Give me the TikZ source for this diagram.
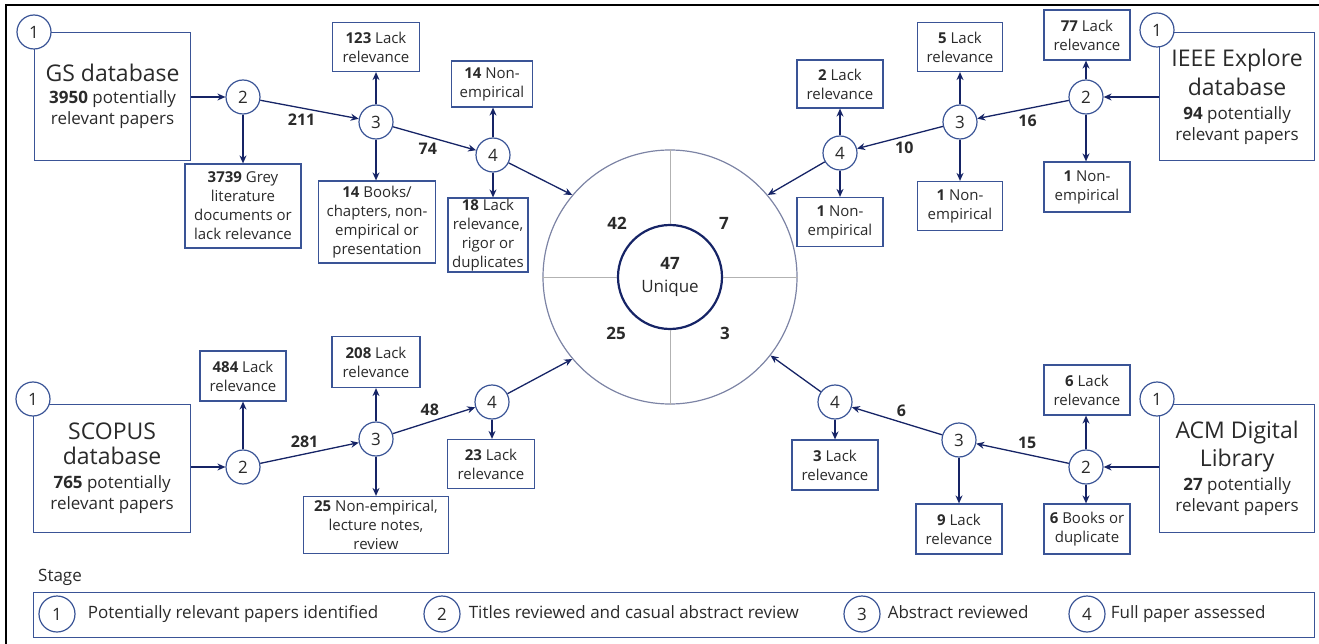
\documentclass[tikz,border=0pt]{standalone}
\usepackage{fontspec}
\setmainfont{Open Sans}
\usepackage{tikz}
\usetikzlibrary{positioning, arrows.meta}

\definecolor{boxblue}{RGB}{58,84,150}
\definecolor{navy}{RGB}{22,36,102}
\definecolor{txtgray}{RGB}{42,42,42}
\definecolor{ringgray}{RGB}{125,132,165}
\definecolor{divgray}{RGB}{178,178,178}

\newcommand{\bigline}{\fontsize{23}{27}\selectfont}

\begin{document}
\begin{tikzpicture}[x=1pt, y=-1pt,
    stage/.style={circle, draw=boxblue, fill=white, line width=1.2pt, minimum size=34pt, inner sep=0pt, text=txtgray, font=\fontsize{17}{20}\selectfont},
    dbbox/.style={rectangle, draw=boxblue, line width=1.2pt, minimum width=156pt, minimum height=128pt, anchor=north west, align=center, text=txtgray, font=\fontsize{17}{21}\selectfont},
    outbox/.style={rectangle, draw=boxblue, line width=1.2pt, minimum width=86pt, minimum height=50pt, inner sep=1pt, align=center, text=txtgray, font=\fontsize{15}{19}\selectfont},
    flow/.style={-{Stealth[length=8pt, width=7pt]}, draw=navy, line width=1.3pt},
    count/.style={font=\bfseries\fontsize{16}{19}\selectfont, text=txtgray},
    keytext/.style={inner sep=0pt, anchor=west, text height=12pt, text depth=4pt, text=txtgray, font=\fontsize{17}{20}\selectfont}]

\useasboundingbox (0,0) rectangle (1319,644);
\draw[line width=2pt] (6,644) -- (6,5) -- (1319,5);

% GS database
\node[dbbox] (gsbox) at (34,32) {{\bigline GS database}\\[1pt] \textbf{3950} potentially\\ relevant papers};
\node[stage] (gs1) at (34,32) {1};
\node[stage] (gs2) at (243,97) {2};
\node[stage] (gs3) at (376,122) {3};
\node[stage] (gs4) at (493,155) {4};
\node[outbox, minimum width=116pt, minimum height=84pt] (gsA) at (243,206) {\textbf{3739} Grey\\ literature\\ documents or\\ lack relevance};
\node[outbox, minimum width=87pt, minimum height=49pt] (gsB) at (376,47) {\textbf{123} Lack\\ relevance};
\node[outbox, minimum width=117pt, minimum height=82pt] (gsC) at (377,222) {\textbf{14} Books/\\ chapters, non-\\ empirical or\\ presentation};
\node[outbox, minimum width=81pt, minimum height=46pt] (gsD) at (492,84) {\textbf{14} Non-\\ empirical};
\node[outbox, minimum width=80pt, minimum height=74pt, inner sep=0pt] (gsE) at (488,235) {\textbf{18} Lack\\ relevance,\\ rigor or\\ duplicates};

\draw[flow] (gsbox.east |- gs2) -- (gs2);
\draw[flow] (gs2) -- (gs2 |- gsA.north);
\draw[flow] (gs2) -- node[count, below, pos=0.42, yshift=-2pt] {211} (gs3);
\draw[flow] (gs3) -- (gs3 |- gsB.south);
\draw[flow] (gs3) -- (gs3 |- gsC.north);
\draw[flow] (gs3) -- node[count, below, pos=0.42, yshift=-2pt] {74} (gs4);
\draw[flow] (gs4) -- (gs4 |- gsD.south);
\draw[flow] (gs4) -- (gs4 |- gsE.north);

% IEEE Explore database
\node[dbbox, minimum width=155pt] (iebox) at (1159,32) {{\bigline IEEE Explore}\\[5pt] {\bigline database}\\[3pt] \textbf{94} potentially\\ relevant papers};
\node[stage] (ie1) at (1157,30) {1};
\node[stage] (ie2) at (1086,97) {2};
\node[stage] (ie3) at (960,122) {3};
\node[stage] (ie4) at (840,153) {4};
\node[outbox] (ieA) at (1087,35) {\textbf{77} Lack\\ relevance};
\node[outbox] (ieB) at (1087,187) {\textbf{1} Non-\\ empirical};
\node[outbox, minimum width=85pt, minimum height=49pt] (ieC) at (960,47) {\textbf{5} Lack\\ relevance};
\node[outbox, minimum width=85pt, minimum height=49pt] (ieD) at (960,206) {\textbf{1} Non-\\ empirical};
\node[outbox, minimum height=48pt] (ieE) at (840,84) {\textbf{2} Lack\\ relevance};
\node[outbox, minimum height=49pt] (ieF) at (840,222) {\textbf{1} Non-\\ empirical};

\draw[flow] (iebox.west |- ie2) -- (ie2);
\draw[flow] (ie2) -- (ie2 |- ieA.south);
\draw[flow] (ie2) -- (ie2 |- ieB.north);
\draw[flow] (ie2) -- node[count, below, pos=0.45, yshift=-2pt] {16} (ie3);
\draw[flow] (ie3) -- (ie3 |- ieC.south);
\draw[flow] (ie3) -- (ie3 |- ieD.north);
\draw[flow] (ie3) -- node[count, below, pos=0.45, yshift=-2pt] {10} (ie4);
\draw[flow] (ie4) -- (ie4 |- ieE.south);
\draw[flow] (ie4) -- (ie4 |- ieF.north);

% SCOPUS database
\node[dbbox, minimum width=157pt] (scbox) at (33,404) {{\bigline SCOPUS}\\[4pt] {\bigline database}\\[3pt] \textbf{765} potentially\\ relevant papers};
\node[stage] (sc1) at (33,399) {1};
\node[stage] (sc2) at (243,467) {2};
\node[stage] (sc3) at (376,439) {3};
\node[stage] (sc4) at (492,402) {4};
\node[outbox] (scA) at (243,376) {\textbf{484} Lack\\ relevance};
\node[outbox, minimum width=88pt, minimum height=51pt] (scB) at (376,362) {\textbf{208} Lack\\ relevance};
\node[outbox, minimum width=145pt, minimum height=57pt, inner sep=0pt] (scC) at (376,525) {\textbf{25} Non-empirical,\\ lecture notes,\\ review};
\node[outbox, minimum width=87pt, minimum height=49pt] (scD) at (491,464) {\textbf{23} Lack\\ relevance};

\draw[flow] (scbox.east |- sc2) -- (sc2);
\draw[flow] (sc2) -- (sc2 |- scA.south);
\draw[flow] (sc2) -- node[count, above, pos=0.45, yshift=2pt] {281} (sc3);
\draw[flow] (sc3) -- (sc3 |- scB.south);
\draw[flow] (sc3) -- (sc3 |- scC.north);
\draw[flow] (sc3) -- node[count, above, pos=0.45, yshift=2pt] {48} (sc4);
\draw[flow] (sc4) -- (sc4 |- scD.north);

% ACM Digital Library
\node[dbbox, minimum width=155pt] (acbox) at (1159,404) {{\bigline ACM Digital}\\[4pt] {\bigline Library}\\[3pt] \textbf{27} potentially\\ relevant papers};
\node[stage] (ac1) at (1157,399) {1};
\node[stage] (ac2) at (1086,467) {2};
\node[stage] (ac3) at (959,440) {3};
\node[stage] (ac4) at (835,402) {4};
\node[outbox] (acA) at (1087,390) {\textbf{6} Lack\\ relevance};
\node[outbox] (acB) at (1087,529) {\textbf{6} Books or\\ duplicate};
\node[outbox] (acC) at (959,529) {\textbf{9} Lack\\ relevance};
\node[outbox] (acD) at (835,465) {\textbf{3} Lack\\ relevance};

\draw[flow] (acbox.west |- ac2) -- (ac2);
\draw[flow] (ac2) -- (ac2 |- acA.south);
\draw[flow] (ac2) -- (ac2 |- acB.north);
\draw[flow] (ac2) -- node[count, above, pos=0.45, yshift=2pt] {15} (ac3);
\draw[flow] (ac3) -- (ac3 |- acC.north);
\draw[flow] (ac3) -- node[count, above, pos=0.45, yshift=2pt] {6} (ac4);
\draw[flow] (ac4) -- (ac4 |- acD.north);

% pool of unique papers
\node[circle, draw=ringgray, line width=1.2pt, minimum size=254pt, inner sep=0pt] (pool) at (670,277) {};
\node[circle, draw=navy, line width=2.2pt, minimum size=104pt, inner sep=0pt, align=center, text=txtgray, font=\fontsize{17}{23}\selectfont] (uniq) at (670,277) {\textbf{47}\\ Unique};
\draw[divgray, line width=1pt] (pool.north) -- (uniq.north);
\draw[divgray, line width=1pt] (pool.south) -- (uniq.south);
\draw[divgray, line width=1pt] (pool.west) -- (uniq.west);
\draw[divgray, line width=1pt] (pool.east) -- (uniq.east);
\node[count, font=\bfseries\fontsize{17}{20}\selectfont] (n42) at (617,223) {42};
\node[count, font=\bfseries\fontsize{17}{20}\selectfont] (n7) at (724,223) {7};
\node[count, font=\bfseries\fontsize{17}{20}\selectfont] (n25) at (616,333) {25};
\node[count, font=\bfseries\fontsize{17}{20}\selectfont] (n3) at (725,333) {3};

\draw[flow] (gs4) -- (pool.140);
\draw[flow] (ie4) -- (pool.40);
\draw[flow] (sc4) -- (pool.220);
\draw[flow] (ac4) -- (pool.322);

% stages
\node[keytext] (stagelbl) at (38,577) {Stage};
\node[rectangle, draw=boxblue, line width=1.2pt, minimum width=1281pt, minimum height=45pt, anchor=north west] (legend) at (33,592) {};
\node[stage, minimum size=36pt] (k1) at (57,614) {1};
\node[keytext, right=12pt of k1] (t1) {Potentially relevant papers identified};
\node[stage, minimum size=36pt] (k2) at (442,614) {2};
\node[keytext, right=8pt of k2] (t2) {Titles reviewed and casual abstract review};
\node[stage, minimum size=36pt] (k3) at (862,614) {3};
\node[keytext, right=7pt of k3] (t3) {Abstract reviewed};
\node[stage, minimum size=36pt] (k4) at (1087,614) {4};
\node[keytext, right=5pt of k4] (t4) {Full paper assessed};
\end{tikzpicture}
\end{document}
